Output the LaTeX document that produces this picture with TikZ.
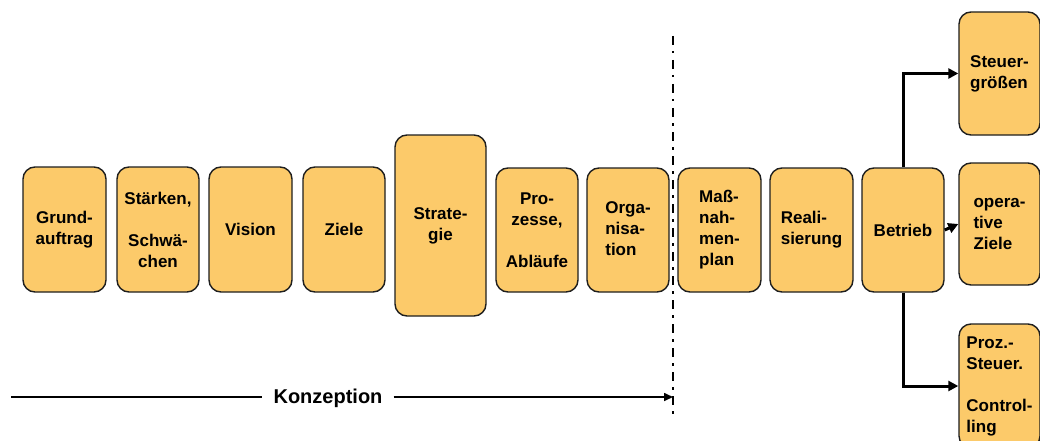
\documentclass[tikz,border=0pt]{standalone}
\usepackage{fontspec}
\setmainfont{Liberation Sans}
\usetikzlibrary{arrows.meta}
\definecolor{boxfill}{RGB}{252,202,106}
\definecolor{boxline}{RGB}{30,30,30}
\newcommand{\lefttext}[1]{\begin{tabular}{@{}l@{}}#1\end{tabular}}
\tikzset{
  basebox/.style={draw=boxline, line width=1.4pt, fill=boxfill, rounded corners=12pt,
    inner sep=0pt, font=\fontsize{17}{21}\selectfont\bfseries},
  stepbox/.style={basebox, align=center},
  leftbox/.style={basebox},
  conn/.style={line width=3pt, -{Triangle[length=10pt,width=10pt]}},
  konz/.style={line width=1.6pt},
  divider/.style={line width=2.4pt, dash pattern=on 9pt off 6pt on 2.5pt off 6.5pt}
}
\begin{document}
\begin{tikzpicture}[x=1pt,y=-1pt]
\clip (0,0) rectangle (1040,441);
\fill[white] (0,0) rectangle (1040,441);
\node[stepbox, minimum width=83pt, minimum height=125pt] (grund) at (64.5,229.5) {Grund-\\auftrag};
\node[stepbox, minimum width=82pt, minimum height=125pt] (staerken) at (158,229.5) {Stärken,\\[21pt]Schwä-\\chen};
\node[stepbox, minimum width=83pt, minimum height=125pt] (vision) at (250.5,229.5) {Vision};
\node[stepbox, minimum width=82pt, minimum height=125pt] (ziele) at (344,229.5) {Ziele};
\node[stepbox, minimum width=91pt, minimum height=181pt] (strategie) at (440.5,225.5) {Strate-\\gie};
\node[stepbox, minimum width=82pt, minimum height=124pt] (prozesse) at (537,230) {Pro-\\zesse,\\[21pt]Abläufe};
\node[leftbox, minimum width=82pt, minimum height=124pt] (orga) at (628,230) {\lefttext{Orga-\\nisa-\\tion}};
\node[leftbox, minimum width=83pt, minimum height=124pt] (massn) at (719.5,230) {\lefttext{Maß-\\nah-\\men-\\plan}};
\node[leftbox, minimum width=83pt, minimum height=124pt] (real) at (811.5,230) {\lefttext{Reali-\\sierung}};
\node[stepbox, minimum width=82pt, minimum height=124pt] (betrieb) at (903,230) {Betrieb};
\node[leftbox, minimum width=81pt, minimum height=122pt] (opziele) at (999.5,224) {\lefttext{opera-\\tive\\Ziele}};
\node[leftbox, minimum width=81pt, minimum height=123pt] (steuer) at (999.5,73.5) {\lefttext{Steuer-\\größen}};
\node[leftbox, minimum width=81pt, minimum height=124pt] (proz) at (999.5,386) {\lefttext{Proz.-\\Steuer.\\[21pt]Control-\\ling}};
% connectors
\draw[conn] (betrieb.north) |- (steuer.west);
\draw[conn] (betrieb.south) |- (proz.west);
\draw[conn] (betrieb.east) -- (opziele.west);
% divider
\coordinate (divtop) at (673,36);
\coordinate (divbot) at (673,414);
\draw[divider] (divtop) -- (divbot);
% Konzeption
\node[font=\fontsize{20}{24}\selectfont\bfseries, inner sep=0pt] (konzeption) at (328,398) {Konzeption};
\coordinate (kstart) at (11,397);
\coordinate (kend) at (673,397);
\draw[konz] (kstart) -- ([xshift=-11pt]konzeption.west |- kstart);
\draw[konz, -{Triangle[length=9pt,width=8pt]}] ([xshift=11pt]konzeption.east |- kend) -- (kend);
\end{tikzpicture}
\end{document}
